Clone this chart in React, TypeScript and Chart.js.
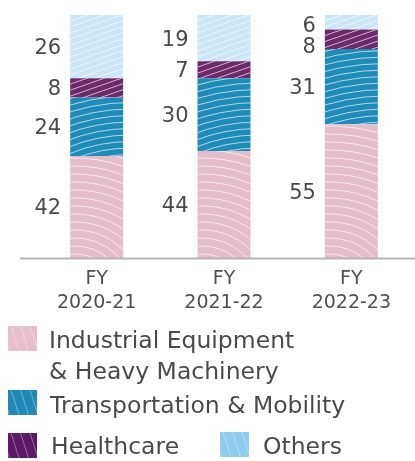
import React, { useEffect, useRef } from 'react';
import { Chart, registerables } from 'chart.js';
Chart.register(...registerables);

const FONT = '"DejaVu Sans", sans-serif';

const categoryTop = ['FY', 'FY', 'FY'];
const categoryBottom = ['2020-21', '2021-22', '2022-23'];
const industrialValues = [42, 44, 55];
const transportValues = [24, 30, 31];
const healthcareValues = [8, 7, 8];
const othersValues = [26, 19, 6];
const seriesLabels = ['Industrial Equipment & Heavy Machinery', 'Transportation & Mobility', 'Healthcare', 'Others'];
const legendLines = [['Industrial Equipment', '& Heavy Machinery'], ['Transportation & Mobility'], ['Healthcare'], ['Others']];
const barColors = ['#e3bdca', '#1f8bb8', '#6c2a6a', '#cde6f7'];
const legendColors = ['#e5bfcc', '#1f8ab7', '#5b1a63', '#8ecdf0'];
const patternKinds = ['arcs', 'waves', 'diag', 'diag'];

function drawPattern(ctx: CanvasRenderingContext2D, kind: string, left: number, width: number, top: number, bottom: number, chartBottom: number) {
  ctx.save();
  ctx.beginPath();
  ctx.rect(left, top, width, bottom - top);
  ctx.clip();
  ctx.strokeStyle = 'rgba(255,255,255,0.65)';
  ctx.lineWidth = 1;
  if (kind === 'arcs') {
    const cx = left + 5, cy = chartBottom + 40;
    for (let r = 20; r < 320; r += 8) {
      ctx.beginPath();
      ctx.arc(cx, cy, r, Math.PI * 1.3, Math.PI * 2);
      ctx.stroke();
    }
  } else if (kind === 'waves') {
    const cx = left + 60, cy = chartBottom + 40;
    for (let r = 20; r < 360; r += 6.5) {
      ctx.beginPath();
      ctx.arc(cx, cy, r, Math.PI, Math.PI * 1.6);
      ctx.stroke();
    }
  } else {
    const slope = 0.35;
    for (let c = top - 30; c < bottom + width * slope + 10; c += 6) {
      ctx.beginPath();
      ctx.moveTo(left, c);
      ctx.lineTo(left + width, c - width * slope);
      ctx.stroke();
    }
  }
  ctx.restore();
}

const chartPlugin = {
  id: 'custom',
  afterDatasetsDraw(chart: any) {
    const ctx: CanvasRenderingContext2D = chart.ctx;
    const area = chart.chartArea;
    const labelsPerCat: any[] = categoryTop.map(() => []);
    chart.data.datasets.forEach((ds: any, di: number) => {
      const meta = chart.getDatasetMeta(di);
      meta.data.forEach((bar: any, j: number) => {
        const p = bar.getProps(['x', 'y', 'base', 'width'], true);
        const left = p.x - p.width / 2;
        const t = Math.min(p.y, p.base), b = Math.max(p.y, p.base);
        drawPattern(ctx, patternKinds[di], left, p.width, t, b, area.bottom);
        labelsPerCat[j].push({ text: String(ds.data[j]), y: (t + b) / 2 + 2, top: t, right: left - 9 });
      });
    });
    ctx.save();
    ctx.strokeStyle = '#b3b3b3';
    ctx.lineWidth = 2;
    ctx.beginPath();
    ctx.moveTo(area.left - 13, area.bottom + 0.5);
    ctx.lineTo(chart.width, area.bottom + 0.5);
    ctx.stroke();
    ctx.restore();

    ctx.save();
    ctx.font = `21px ${FONT}`;
    ctx.fillStyle = '#4a4a4a';
    ctx.textAlign = 'right';
    ctx.textBaseline = 'middle';
    labelsPerCat.forEach((labels) => {
      const sorted = labels.slice().sort((a: any, b: any) => a.y - b.y);
      const barTop = Math.min(...sorted.map((l: any) => l.top));
      for (let i = 0; i < sorted.length - 1; i++) {
        if (sorted[i + 1].y - sorted[i].y < 21) {
          sorted[i].y = Math.max(sorted[i].y, barTop + 12);
          sorted[i + 1].y = sorted[i].y + 21;
        }
      }
      sorted.forEach((l: any) => ctx.fillText(l.text, l.right, l.y));
    });
    ctx.restore();
  },
  afterDraw(chart: any) {
    const ctx: CanvasRenderingContext2D = chart.ctx;
    const items = [
      { box: [8, 326], text: [[49, 342], [49, 373]] },
      { box: [8, 390], text: [[50, 407]] },
      { box: [8, 433], text: [[51, 448]] },
      { box: [220, 432], text: [[263, 448]] },
    ];
    ctx.save();
    items.forEach((it, i) => {
      const [bx, by] = it.box;
      ctx.fillStyle = legendColors[i];
      ctx.fillRect(bx, by, 29, 25);
      ctx.save();
      ctx.beginPath();
      ctx.rect(bx, by, 29, 25);
      ctx.clip();
      ctx.strokeStyle = 'rgba(255,255,255,0.35)';
      ctx.lineWidth = 1;
      for (let k = -2; k < 5; k++) {
        ctx.beginPath();
        ctx.moveTo(bx + k * 9.5 + 3, by);
        ctx.lineTo(bx + k * 9.5 + 11, by + 25);
        ctx.stroke();
      }
      ctx.restore();
      ctx.font = `23.5px ${FONT}`;
      ctx.fillStyle = '#4a4a4a';
      ctx.textAlign = 'left';
      ctx.textBaseline = 'middle';
      legendLines[i].forEach((line, k) => ctx.fillText(line, it.text[k][0], it.text[k][1]));
    });
    ctx.restore();
  },
};

export default function App() {
  const ref = useRef<HTMLCanvasElement>(null);
  useEffect(() => {
    document.body.style.margin = '0';
    const chart = new Chart(ref.current!, {
      type: 'bar',
      data: {
        labels: categoryTop.map((t, i) => [t, categoryBottom[i]]),
        datasets: [industrialValues, transportValues, healthcareValues, othersValues].map((d, i) => ({
          label: seriesLabels[i],
          data: d,
          backgroundColor: barColors[i],
          borderWidth: 0,
          barPercentage: 0.416,
          categoryPercentage: 1,
        })),
      },
      options: {
        animation: false,
        responsive: false,
        maintainAspectRatio: false,
        layout: { padding: { left: 33, right: 0, top: 15, bottom: 0 } },
        plugins: { legend: { display: false }, tooltip: { enabled: false } },
        scales: {
          x: {
            stacked: true,
            grid: { display: false, drawTicks: false },
            border: { display: false },
            ticks: { color: '#505050', font: { family: FONT, size: 19, lineHeight: 1.26 }, padding: 9, maxRotation: 0 },
            afterFit: (s: any) => { s.height = 203; },
          },
          y: { stacked: true, min: 0, max: 100, display: false },
        },
      },
      plugins: [chartPlugin],
    });
    return () => chart.destroy();
  }, []);
  return (
    <div style={{ position: 'relative', width: 415, height: 461 }}>
      <canvas ref={ref} width={415} height={461} style={{ display: 'block' }} />
    </div>
  );
}
